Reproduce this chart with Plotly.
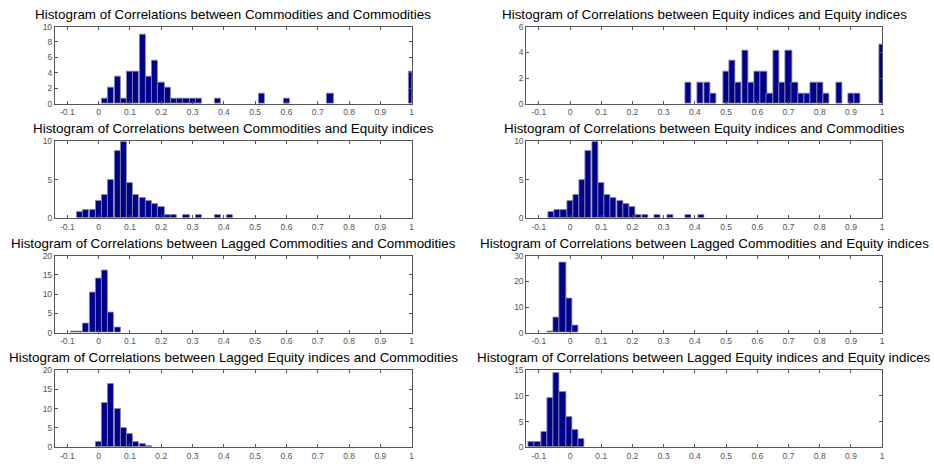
import plotly.graph_objects as go

# ---------------- data ----------------
titles = [
    "Histogram of Correlations between Commodities and Commodities",
    "Histogram of Correlations between Equity indices and Equity indices",
    "Histogram of Correlations between Commodities and Equity indices",
    "Histogram of Correlations between Equity indices and Commodities",
    "Histogram of Correlations between Lagged Commodities and Commodities",
    "Histogram of Correlations between Lagged Commodities and Equity indices",
    "Histogram of Correlations between Lagged Equity indices and Commodities",
    "Histogram of Correlations between Lagged Equity indices and Equity indices",
]

cc_x = [0.020, 0.040, 0.060, 0.080, 0.100, 0.120, 0.140, 0.160, 0.180, 0.200, 0.220,
        0.240, 0.260, 0.280, 0.300, 0.320, 0.380, 0.520, 0.600, 0.740, 1.0]
cc_y = [0.69, 2.08, 3.47, 0.69, 4.17, 4.17, 9.03, 3.47, 5.56, 2.78, 2.08,
        0.69, 0.69, 0.69, 0.69, 0.69, 0.69, 1.39, 0.69, 1.39, 4.17]

ee_x = [0.378, 0.418, 0.439, 0.460, 0.501, 0.520, 0.540, 0.561, 0.581, 0.601, 0.621,
        0.640, 0.661, 0.681, 0.701, 0.720, 0.741, 0.761, 0.781, 0.801, 0.821, 0.862,
        0.901, 0.921, 1.0]
ee_y = [1.67, 1.67, 1.67, 0.83, 2.5, 3.33, 1.67, 4.17, 1.67, 2.5, 2.5,
        0.83, 4.17, 1.67, 4.17, 1.67, 0.83, 0.83, 1.67, 1.67, 0.83, 1.67,
        0.83, 0.83, 4.58]

ce_x = [-0.06, -0.04, -0.02, 0.0, 0.02, 0.04, 0.06, 0.08, 0.10, 0.12, 0.14, 0.16,
        0.18, 0.20, 0.22, 0.24, 0.28, 0.32, 0.38, 0.42]
ce_y = [0.76, 1.14, 1.14, 2.27, 3.03, 4.92, 8.71, 9.85, 4.55, 3.03, 2.65, 2.27,
        1.89, 1.52, 0.38, 0.38, 0.38, 0.38, 0.38, 0.38]

ec_x = [-0.06, -0.04, -0.02, 0.0, 0.02, 0.04, 0.06, 0.08, 0.10, 0.12, 0.14, 0.16,
        0.18, 0.20, 0.22, 0.24, 0.28, 0.32, 0.38, 0.42]
ec_y = [0.76, 1.14, 1.14, 2.27, 3.03, 4.92, 8.71, 9.85, 4.55, 3.03, 2.65, 2.27,
        1.89, 1.52, 0.38, 0.38, 0.38, 0.38, 0.38, 0.38]

lcc_x = [-0.08, -0.06, -0.04, -0.02, 0.0, 0.02, 0.04, 0.06]
lcc_y = [0.4, 0.4, 2.4, 10.4, 14.0, 16.0, 5.2, 1.4]

lce_x = [-0.063, -0.043, -0.023, -0.003, 0.017]
lce_y = [0.7, 6.1, 27.3, 13.3, 2.7]

lec_x = [0.0, 0.02, 0.04, 0.06, 0.08, 0.10, 0.12, 0.14, 0.16]
lec_y = [1.5, 11.4, 16.3, 9.9, 5.0, 3.4, 1.5, 0.76, 0.38]

lee_x = [-0.123, -0.103, -0.083, -0.063, -0.043, -0.023, -0.003, 0.017, 0.037]
lee_y = [0.95, 0.95, 2.9, 9.5, 14.5, 10.8, 5.8, 3.4, 1.7]

series_x = [cc_x, ee_x, ce_x, ec_x, lcc_x, lce_x, lec_x, lee_x]
series_y = [cc_y, ee_y, ce_y, ec_y, lcc_y, lce_y, lec_y, lee_y]

y_max = [10, 6, 10, 10, 20, 30, 20, 15]
y_step = [2, 2, 5, 5, 5, 10, 5, 5]

x_tickvals = [-0.1, 0, 0.1, 0.2, 0.3, 0.4, 0.5, 0.6, 0.7, 0.8, 0.9, 1]
x_ticktext = ["-0.1", "0", "0.1", "0.2", "0.3", "0.4", "0.5", "0.6", "0.7", "0.8", "0.9", "1"]

# ---------------- layout geometry ----------------
W, H = 934, 467
col_x = [(55, 413), (528, 885)]
row_top = [22, 139, 256, 373]
plot_h = 79
bin_w = 0.0196

fig = go.Figure()
layout = dict(
    width=W, height=H,
    margin=dict(l=0, r=0, t=0, b=0),
    paper_bgcolor="white", plot_bgcolor="white",
    showlegend=False,
    bargap=0,
    font=dict(family="Liberation Sans, Arial, sans-serif"),
)
annotations = []

for i in range(8):
    r, c = divmod(i, 2)
    n = i + 1
    xa = "xaxis" if n == 1 else f"xaxis{n}"
    ya = "yaxis" if n == 1 else f"yaxis{n}"
    xr = "x" if n == 1 else f"x{n}"
    yr = "y" if n == 1 else f"y{n}"
    x0, x1 = col_x[c]
    top = row_top[r]
    bot = top + plot_h

    fig.add_trace(go.Bar(
        x=series_x[i], y=series_y[i], width=bin_w,
        marker=dict(color="#00008F", line=dict(color="#8a8a9a", width=0.8)),
        xaxis=xr, yaxis=yr, hoverinfo="x+y",
    ))

    axis_common = dict(
        showline=True, linecolor="#555555", linewidth=1, mirror="allticks",
        ticks="inside", ticklen=3, tickcolor="#555555", showgrid=False,
        zeroline=False, tickfont=dict(size=8.5, color="#555555"),
    )
    layout[xa] = dict(
        domain=[x0 / W, x1 / W], range=[-0.14, 1.0], anchor=yr,
        tickmode="array", tickvals=x_tickvals, ticktext=x_ticktext,
        **axis_common,
    )
    layout[ya] = dict(
        domain=[1 - bot / H, 1 - top / H], range=[0, y_max[i]], anchor=xr,
        tickmode="linear", tick0=0, dtick=y_step[i],
        **axis_common,
    )
    annotations.append(dict(
        text=titles[i], xref="paper", yref="paper",
        x=(x0 + x1) / 2 / W, y=1 - (top - 3) / H,
        xanchor="center", yanchor="bottom", showarrow=False,
        font=dict(size=13.4, color="black"),
    ))

layout["annotations"] = annotations
fig.update_layout(**layout)
fig.write_html("out.html")
